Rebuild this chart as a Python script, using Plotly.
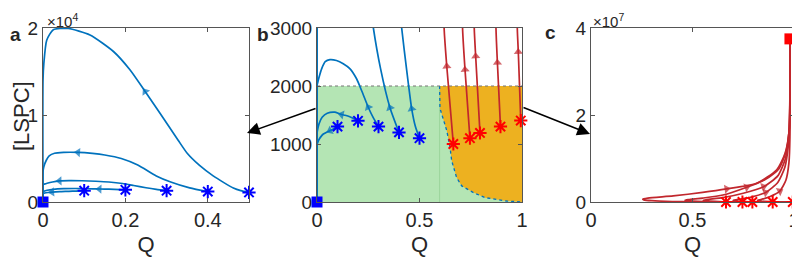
import plotly.graph_objects as go

# ---------------- data ----------------
# blue trajectories (start at blue stars, end at origin)
blue_Q = [
    [0.1, 0.08, 0.063, 0.045, 0.031, 0.022, 0.012, 0.004, 0, 0],
    [0.2, 0.16, 0.137, 0.12, 0.088, 0.05, 0.025, 0.01, 0.002, 0, 0],
    [0.3, 0.275, 0.25, 0.22, 0.193, 0.16, 0.128, 0.095, 0.063, 0.04, 0.023, 0.01, 0.003, 0, 0],
    [0.4, 0.356, 0.31, 0.275, 0.23, 0.19, 0.15, 0.12, 0.085, 0.05, 0.028, 0.015, 0.008, 0.002, 0, 0],
    [0.5, 0.48, 0.462, 0.44, 0.413, 0.38, 0.35, 0.328, 0.284, 0.248, 0.211, 0.171, 0.114, 0.061,
     0.025, 0.009, 0.002, 0, 0],
]
blue_L = [
    [1300, 1260, 1230, 1200, 1173, 1140, 1090, 1030, 980, 0],
    [1400, 1470, 1495, 1508, 1548, 1530, 1460, 1350, 1230, 1180, 0],
    [1300, 1450, 1634, 1900, 2125, 2300, 2385, 2440, 2455, 2420, 2300, 2150, 2050, 2000, 0],
    [1200, 1624, 2300, 3000, 4250, 5000, 5400, 5580, 5700, 5700, 5600, 5300, 4800, 4060, 3500, 0],
    [1100, 1300, 1606, 2200, 3000, 4200, 5600, 7100, 10200, 12700, 15200, 17300, 19200, 19950,
     19800, 18600, 15900, 14000, 0],
]
blue_arrow_a = [5, 2, 9, 8, 9]
blue_arrow_b = [2, 3, 2, 1, 2]

# red trajectories (start at red stars, end at red square)
red_Q = [
    [0.665, 0.633, 0.62, 0.58, 0.5, 0.4, 0.3, 0.26, 0.255, 0.28, 0.405, 0.55, 0.668, 0.816, 0.915,
     0.956, 0.977, 0.98, 0.98],
    [0.746, 0.722, 0.71, 0.68, 0.6, 0.5, 0.47, 0.463, 0.48, 0.55, 0.65, 0.767, 0.86, 0.925, 0.96,
     0.977, 0.98, 0.98],
    [0.795, 0.774, 0.767, 0.74, 0.65, 0.58, 0.555, 0.553, 0.57, 0.65, 0.75, 0.85, 0.92, 0.958,
     0.975, 0.98, 0.98],
    [0.895, 0.88, 0.873, 0.85, 0.78, 0.72, 0.705, 0.70, 0.72, 0.78, 0.86, 0.92, 0.955, 0.972,
     0.979, 0.98],
    [0.994, 0.982, 0.977, 0.96, 0.9, 0.84, 0.825, 0.82, 0.84, 0.88, 0.93, 0.96, 0.975, 0.98, 0.98],
]
red_L = [
    [1000, 2340, 3000, 1e4, 4e4, 1.2e5, 3e5, 5e5, 6.5e5, 9e5, 1.4e6, 2.2e6, 3.0e6, 4.3e6, 7.4e6,
     1.12e7, 1.66e7, 2.5e7, 3.75e7],
    [1100, 2282, 3000, 1e4, 5e4, 1.8e5, 2.8e5, 4e5, 5.5e5, 9e5, 1.6e6, 3.4e6, 5.2e6, 7.6e6, 1.15e7,
     1.7e7, 2.5e7, 3.75e7],
    [1190, 2513, 3000, 1e4, 6e4, 2e5, 3e5, 4e5, 5.5e5, 1e6, 2e6, 3.5e6, 6e6, 1e7, 1.6e7, 2.5e7, 3.75e7],
    [1300, 2403, 3000, 1e4, 6e4, 2e5, 3e5, 4e5, 5.5e5, 1e6, 2.2e6, 4.5e6, 8e6, 1.3e7, 2e7, 3.75e7],
    [1404, 2588, 3000, 1e4, 6e4, 2e5, 3e5, 4e5, 6e5, 1.2e6, 2.5e6, 5e6, 9e6, 1.5e7, 3.75e7],
]
red_arrow_b = [1, 1, 1, 1, 1]
red_arrow_c = [12, 11, 11, 10, 10]

# region boundary in panel b
bound_Q = [0.598, 0.6, 0.633, 0.649, 0.657, 0.681, 0.706, 0.763, 0.82, 0.925, 1.0]
bound_L = [2000, 1612, 1230, 941, 711, 421, 277, 162, 75, 17, 0]
region_top = 2000

blue_end = (0, 0)
red_end = (0.98, 3.75e7)

# ---------------- styles ----------------
BLUE_LINE = "#0072BD"
RED_LINE = "#C1272D"
STAR_BLUE = "#0000FF"
STAR_RED = "#FF0000"
GREEN = "#B4E5B4"
ORANGE = "#EDB120"
AX = "#555555"
TXT = "#262626"
FONT = "Liberation Sans, Arial, sans-serif"

fig = go.Figure()


def curve(xs, ys, color, xa, ya):
    fig.add_trace(go.Scatter(x=xs, y=ys, mode="lines", xaxis=xa, yaxis=ya,
                             line=dict(color=color, width=1.7, shape="spline", smoothing=0.6),
                             hoverinfo="skip", showlegend=False))


def arrow(xs, ys, k, color, xa, ya):
    fig.add_trace(go.Scatter(x=[xs[k - 1], xs[k]], y=[ys[k - 1], ys[k]], mode="markers",
                             xaxis=xa, yaxis=ya, cliponaxis=False,
                             marker=dict(symbol="triangle-up", size=[0, 8], color=color,
                                         angleref="previous", line=dict(width=0)),
                             hoverinfo="skip", showlegend=False))


def stars(xs, ys, color, xa, ya):
    fig.add_trace(go.Scatter(x=xs, y=ys, mode="markers", xaxis=xa, yaxis=ya, cliponaxis=False,
                             marker=dict(symbol="asterisk-open", size=11, color=color,
                                         line=dict(color=color, width=2)),
                             hoverinfo="skip", showlegend=False))


def square(pt, color, xa, ya):
    fig.add_trace(go.Scatter(x=[pt[0]], y=[pt[1]], mode="markers", xaxis=xa, yaxis=ya,
                             cliponaxis=False,
                             marker=dict(symbol="square", size=11, color=color),
                             hoverinfo="skip", showlegend=False))


# ---- panel b regions ----
fig.add_trace(go.Scatter(x=[0, 1, 1, 0, 0], y=[0, 0, region_top, region_top, 0], mode="lines",
                         fill="toself", fillcolor=GREEN, line=dict(width=0),
                         xaxis="x2", yaxis="y2", hoverinfo="skip", showlegend=False))
fig.add_trace(go.Scatter(x=bound_Q + [1.0, bound_Q[0]], y=bound_L + [region_top, bound_L[0]],
                         mode="lines", fill="toself", fillcolor=ORANGE, line=dict(width=0),
                         xaxis="x2", yaxis="y2", hoverinfo="skip", showlegend=False))
fig.add_trace(go.Scatter(x=[bound_Q[0], bound_Q[0]], y=[0, region_top], mode="lines",
                         line=dict(color="rgba(120,190,120,0.4)", width=1),
                         xaxis="x2", yaxis="y2", hoverinfo="skip", showlegend=False))
fig.add_trace(go.Scatter(x=bound_Q, y=bound_L, mode="lines",
                         line=dict(color=BLUE_LINE, width=1.3, dash="dot"),
                         xaxis="x2", yaxis="y2", hoverinfo="skip", showlegend=False))
fig.add_trace(go.Scatter(x=[0, 1], y=[region_top, region_top], mode="lines",
                         line=dict(color="#777777", width=1.2, dash="dot"),
                         xaxis="x2", yaxis="y2", hoverinfo="skip", showlegend=False))

# ---- blue trajectories in a and b ----
for i in range(len(blue_Q)):
    curve(blue_Q[i], blue_L[i], BLUE_LINE, "x", "y")
    curve(blue_Q[i], blue_L[i], BLUE_LINE, "x2", "y2")
    arrow(blue_Q[i], blue_L[i], blue_arrow_a[i], BLUE_LINE, "x", "y")
    arrow(blue_Q[i], blue_L[i], blue_arrow_b[i], BLUE_LINE, "x2", "y2")

# ---- red trajectories in b and c ----
for i in range(len(red_Q)):
    curve(red_Q[i], red_L[i], RED_LINE, "x2", "y2")
    curve(red_Q[i], red_L[i], RED_LINE, "x3", "y3")
    arrow(red_Q[i], red_L[i], red_arrow_b[i], RED_LINE, "x2", "y2")
    arrow(red_Q[i], red_L[i], red_arrow_c[i], RED_LINE, "x3", "y3")

bs_x = [q[0] for q in blue_Q]
bs_y = [l[0] for l in blue_L]
rs_x = [q[0] for q in red_Q]
rs_y = [l[0] for l in red_L]
stars(bs_x, bs_y, STAR_BLUE, "x", "y")
stars(bs_x, bs_y, STAR_BLUE, "x2", "y2")
stars(rs_x, rs_y, STAR_RED, "x2", "y2")
stars(rs_x, rs_y, STAR_RED, "x3", "y3")
square(blue_end, STAR_BLUE, "x", "y")
square(blue_end, STAR_BLUE, "x2", "y2")
square(red_end, STAR_RED, "x3", "y3")

# page body has an 8px margin: the figure is sized and placed to fill the window exactly
OX, OY = 8, 8
W, H = 792, 255


def px(x):
    return (x - OX) / W


def py(y):
    return 1 - (y - OY) / H


ytop, ybot = 28, 202


def ax(lo, hi, rng, tv, tt, anchor):
    return dict(domain=[px(lo), px(hi)], range=rng, tickvals=tv, ticktext=tt, anchor=anchor,
                showline=True, mirror="ticks", linecolor=AX, linewidth=1, ticks="inside",
                ticklen=4, tickcolor=AX, showgrid=False, zeroline=False, automargin=False,
                tickfont=dict(size=20, color=TXT, family=FONT),
                title=dict(text="Q", font=dict(size=22, color=TXT, family=FONT), standoff=6))


def ay(rng, tv, tt, anchor):
    return dict(domain=[py(ybot), py(ytop)], range=rng, tickvals=tv, ticktext=tt,
                anchor=anchor, showline=True, mirror="ticks", linecolor=AX, linewidth=1,
                ticks="inside", ticklen=4, tickcolor=AX, showgrid=False, zeroline=False,
                automargin=False,
                tickfont=dict(size=19, color=TXT, family=FONT))


fig.update_layout(
    width=W, height=H, margin=dict(l=0, r=0, t=0, b=0, autoexpand=False),
    paper_bgcolor="white", plot_bgcolor="white", showlegend=False,
    font=dict(family=FONT, color=TXT),
    xaxis=ax(43, 249, [0, 0.5], [0, 0.2, 0.4], ["0", "0.2", "0.4"], "y"),
    yaxis=ay([0, 2e4], [0, 1e4, 2e4], ["0", "1", "2"], "x"),
    xaxis2=ax(317, 522, [0, 1], [0, 0.5, 1], ["0", "0.5", "1"], "y2"),
    yaxis2=ay([0, 3000], [0, 1000, 2000, 3000], ["0", "1000", "2000", "3000"], "x2"),
    xaxis3=ax(591, 794, [0, 1], [0, 0.5, 1], ["0", "0.5", "1"], "y3"),
    yaxis3=ay([0, 4e7], [0, 2e7, 4e7], ["0", "2", "4"], "x3"),
)

ann = [
    dict(text="<b>a</b>", x=px(8), y=py(35), xanchor="left", yanchor="middle", font=dict(size=19)),
    dict(text="<b>b</b>", x=px(255), y=py(35), xanchor="left", yanchor="middle", font=dict(size=19)),
    dict(text="<b>c</b>", x=px(543), y=py(32), xanchor="left", yanchor="middle", font=dict(size=19)),
    dict(text="×10<sup>4</sup>", x=px(45), y=py(8.5), xanchor="left", yanchor="top",
         font=dict(size=15)),
    dict(text="×10<sup>7</sup>", x=px(591), y=py(8.5), xanchor="left", yanchor="top",
         font=dict(size=15)),
    dict(text="[LSPC]", x=px(21), y=py(116), xanchor="center", yanchor="middle", textangle=-90,
         font=dict(size=22)),
]
for a in ann:
    a.update(xref="paper", yref="paper", showarrow=False)
    fig.add_annotation(**a)

# black connector arrows
fig.add_annotation(x=px(247), y=py(133), xref="paper", yref="paper", ax=70, ay=-25,
                   axref="pixel", ayref="pixel", text="", showarrow=True, arrowhead=2,
                   arrowsize=1.6, arrowwidth=1.6, arrowcolor="black")
fig.add_annotation(x=px(590), y=py(134), xref="paper", yref="paper", ax=-68, ay=-27,
                   axref="pixel", ayref="pixel", text="", showarrow=True, arrowhead=2,
                   arrowsize=1.6, arrowwidth=1.6, arrowcolor="black")

fig.write_html("out.html")
